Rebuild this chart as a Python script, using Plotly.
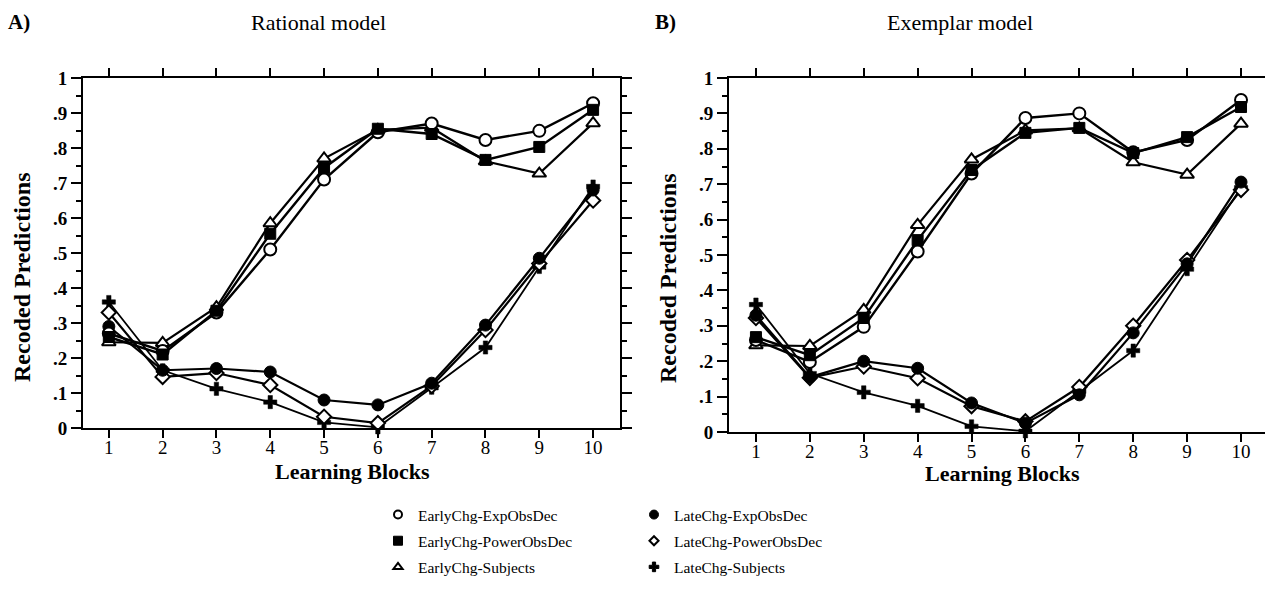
import plotly.graph_objects as go

# Learning blocks and observed/predicted recoded responses
blocks = [1, 2, 3, 4, 5, 6, 7, 8, 9, 10]

# Subjects (shared by both panels)
early_subjects = [0.245, 0.243, 0.345, 0.585, 0.77, 0.852, 0.858, 0.762, 0.727, 0.871]
late_subjects = [0.36, 0.165, 0.112, 0.074, 0.016, 0.002, 0.115, 0.23, 0.46, 0.69]

# A) Rational model
rat_early_exp = [0.27, 0.22, 0.33, 0.51, 0.71, 0.845, 0.87, 0.823, 0.849, 0.928]
rat_early_pow = [0.26, 0.21, 0.335, 0.555, 0.743, 0.855, 0.84, 0.766, 0.803, 0.909]
rat_late_exp = [0.29, 0.165, 0.17, 0.16, 0.08, 0.066, 0.128, 0.294, 0.485, 0.68]
rat_late_pow = [0.33, 0.146, 0.157, 0.123, 0.032, 0.014, 0.12, 0.28, 0.47, 0.65]

# B) Exemplar model
exm_early_exp = [0.26, 0.198, 0.297, 0.51, 0.73, 0.887, 0.90, 0.79, 0.825, 0.938]
exm_early_pow = [0.268, 0.217, 0.322, 0.542, 0.74, 0.845, 0.859, 0.788, 0.833, 0.918]
exm_late_exp = [0.33, 0.155, 0.20, 0.18, 0.082, 0.025, 0.105, 0.28, 0.475, 0.706]
exm_late_pow = [0.322, 0.153, 0.185, 0.152, 0.073, 0.03, 0.127, 0.30, 0.486, 0.684]

y_ticks = [0, 0.1, 0.2, 0.3, 0.4, 0.5, 0.6, 0.7, 0.8, 0.9, 1.0]
y_ticktext = ["0", ".1", ".2", ".3", ".4", ".5", ".6", ".7", ".8", ".9", "1"]

SERIF = "Liberation Serif"
W, H = 1265, 607

series_names = [
    "EarlyChg-ExpObsDec", "EarlyChg-PowerObsDec", "EarlyChg-Subjects",
    "LateChg-ExpObsDec", "LateChg-PowerObsDec", "LateChg-Subjects",
]
styles = {
    "EarlyChg-ExpObsDec": dict(symbol="circle", size=12, color="white", lw=2),
    "EarlyChg-PowerObsDec": dict(symbol="square", size=11, color="black", lw=1),
    "EarlyChg-Subjects": dict(symbol="triangle-up", size=12, color="white", lw=2),
    "LateChg-ExpObsDec": dict(symbol="circle", size=12, color="black", lw=1),
    "LateChg-PowerObsDec": dict(symbol="diamond", size=11, color="white", lw=2),
    "LateChg-Subjects": dict(symbol="cross", size=11, color="black", lw=0.5),
}
line_w = {
    "EarlyChg-ExpObsDec": 2.4, "EarlyChg-PowerObsDec": 2.4, "EarlyChg-Subjects": 2.2,
    "LateChg-ExpObsDec": 2.2, "LateChg-PowerObsDec": 2.2, "LateChg-Subjects": 1.8,
}

panels = [
    ("x", "y", {
        "EarlyChg-ExpObsDec": rat_early_exp, "EarlyChg-PowerObsDec": rat_early_pow,
        "EarlyChg-Subjects": early_subjects, "LateChg-ExpObsDec": rat_late_exp,
        "LateChg-PowerObsDec": rat_late_pow, "LateChg-Subjects": late_subjects,
    }),
    ("x2", "y2", {
        "EarlyChg-ExpObsDec": exm_early_exp, "EarlyChg-PowerObsDec": exm_early_pow,
        "EarlyChg-Subjects": early_subjects, "LateChg-ExpObsDec": exm_late_exp,
        "LateChg-PowerObsDec": exm_late_pow, "LateChg-Subjects": late_subjects,
    }),
]

fig = go.Figure()
draw_order = [
    "LateChg-Subjects", "LateChg-PowerObsDec", "LateChg-ExpObsDec",
    "EarlyChg-Subjects", "EarlyChg-ExpObsDec", "EarlyChg-PowerObsDec",
]
for xa, ya, data in panels:
    for name in draw_order:
        st = styles[name]
        fig.add_trace(go.Scatter(
            x=blocks, y=data[name], xaxis=xa, yaxis=ya, mode="lines+markers",
            name=name, showlegend=False, cliponaxis=False,
            line=dict(color="black", width=line_w[name]),
            marker=dict(symbol=st["symbol"], size=st["size"], color=st["color"],
                        line=dict(color="black", width=st["lw"])),
        ))

# legend-only entries (markers without lines), two columns of three
legend_sizes = {
    "EarlyChg-ExpObsDec": 8, "EarlyChg-PowerObsDec": 9, "EarlyChg-Subjects": 8,
    "LateChg-ExpObsDec": 9, "LateChg-PowerObsDec": 7, "LateChg-Subjects": 8,
}
for i, name in enumerate(series_names):
    st = styles[name]
    fig.add_trace(go.Scatter(
        x=[None], y=[None], mode="markers", name=name, showlegend=True,
        legend="legend" if i < 3 else "legend2", legendgroup=name,
        marker=dict(symbol=st["symbol"], size=legend_sizes[name], color=st["color"],
                    line=dict(color="black", width=2 if st["color"] == "white" else 1)),
    ))

axis_common = dict(
    showgrid=False, zeroline=False, showline=True, linecolor="black", linewidth=2,
    ticks="outside", tickcolor="black", tickwidth=2, automargin=False,
)
legend_common = dict(
    font=dict(family=SERIF, size=15.5, color="black"), bgcolor="rgba(0,0,0,0)",
    yanchor="top", xanchor="left", tracegroupgap=3, itemwidth=30,
)
minor_ticks = dict(dtick=0.05, ticks="outside", ticklen=5, tickwidth=2,
                   tickcolor="black", showgrid=False)

fig.update_layout(
    width=W, height=H, margin=dict(l=0, r=0, t=0, b=0, autoexpand=False),
    paper_bgcolor="white", plot_bgcolor="white",
    font=dict(family=SERIF, color="black"),
    xaxis=dict(**axis_common, domain=[83 / W, 620 / W], range=[0.52, 10.5],
               tickvals=blocks, ticklen=8, mirror="allticks", anchor="y",
               ticklabelstandoff=-7, tickfont=dict(size=19, family=SERIF)),
    yaxis=dict(**axis_common, domain=[(H - 428) / H, (H - 78) / H], range=[0, 1],
               tickvals=y_ticks, ticktext=y_ticktext, ticklen=10, mirror="allticks",
               anchor="x", tickfont=dict(size=19, family=SERIF, weight="bold"),
               minor=minor_ticks),
    xaxis2=dict(**axis_common, domain=[729 / W, 1.0], range=[0.5, 10.445],
                tickvals=blocks, ticklen=8, mirror="allticks", anchor="y2",
                ticklabelstandoff=-7, tickfont=dict(size=19, family=SERIF)),
    yaxis2=dict(**axis_common, domain=[(H - 432) / H, (H - 78) / H], range=[0, 1],
                tickvals=y_ticks, ticktext=y_ticktext, ticklen=10, mirror=False,
                anchor="x2", tickfont=dict(size=19, family=SERIF, weight="bold"),
                minor=minor_ticks),
    legend=dict(**legend_common, x=378 / W, y=(H - 498) / H),
    legend2=dict(**legend_common, x=634 / W, y=(H - 498) / H),
)


def label(text, px, py, size, bold=False, angle=0, xanchor="center"):
    fig.add_annotation(
        text=f"<b>{text}</b>" if bold else text, xref="paper", yref="paper",
        x=px / W, y=(H - py) / H, xanchor=xanchor, yanchor="middle",
        showarrow=False, textangle=angle, font=dict(family=SERIF, size=size, color="black"),
    )


label("A)", 6, 22, 21, bold=True, xanchor="left")
label("Rational model", 318, 22, 22)
label("B)", 653, 22, 21, bold=True, xanchor="left")
label("Exemplar model", 960, 22, 22)
label("Recoded Predictions", 22, 277, 24, bold=True, angle=-90)
label("Recoded Predictions", 668, 278, 24, bold=True, angle=-90)
label("Learning Blocks", 352, 471, 22, bold=True)
label("Learning Blocks", 1002, 473, 22, bold=True)

fig.write_html("out.html")
